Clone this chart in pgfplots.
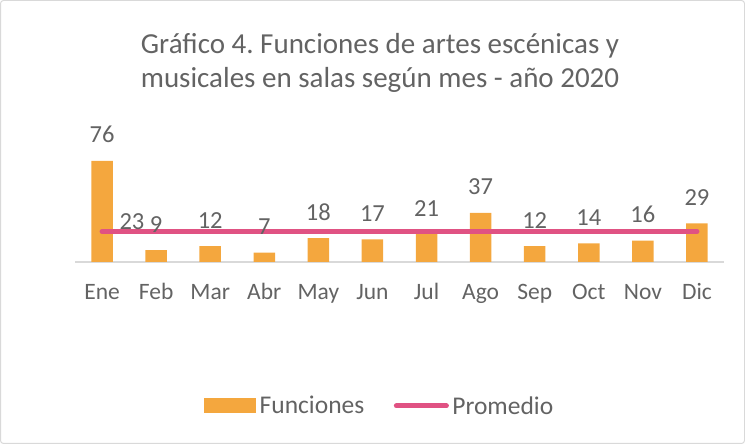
\documentclass[border=0pt]{standalone}
\usepackage{pgfplots}
\pgfplotsset{compat=1.18}
\usepackage{fontspec}
\setmainfont{Carlito}
\frenchspacing
\definecolor{barc}{HTML}{F4A73E}
\definecolor{linec}{HTML}{E05283}
\definecolor{txt}{HTML}{636363}
\definecolor{bord}{HTML}{D9D9D9}
\begin{document}
\begin{tikzpicture}[x=1pt,y=1pt]
\path[use as bounding box] (0,0) rectangle (745,444);
\draw[bord, line width=1pt, rounded corners=3pt] (0.5,0.5) rectangle (744.5,443.5);
\node[txt, font=\fontsize{29}{34}\selectfont, anchor=base, inner sep=0pt] at (380,390.7) {Gráfico 4. Funciones de artes escénicas y};
\node[txt, font=\fontsize{29}{34}\selectfont, anchor=base, inner sep=0pt] at (380,356) {musicales en salas según mes - año 2020};
\begin{axis}[
  at={(75pt,182pt)}, anchor=south west,
  scale only axis, width=649pt, height=106.4pt,
  xmin=-0.5, xmax=11.5, ymin=0, ymax=80,
  enlargelimits=false, clip=false,
  /pgf/number format/assume math mode=true,
  axis x line*=bottom, axis y line=none,
  x axis line style={draw=bord, line width=1.5pt},
  xtick={0,...,11},
  xticklabels={Ene,Feb,Mar,Abr,May,Jun,Jul,Ago,Sep,Oct,Nov,Dic},
  xtick style={draw=none},
  xticklabel style={font=\fontsize{23.5}{28}\selectfont, text=txt, anchor=base, inner sep=0pt, yshift=-38pt},
  legend style={draw=none, fill=none, legend columns=2,
    at={(axis description cs:0.4707,-1.353)}, anchor=center,
    font=\fontsize{25.5}{30}\selectfont, text=txt,
    nodes={inner sep=3.5pt},
    /tikz/every even column/.append style={column sep=26pt}},
]
\addplot[ybar, bar width=21.5pt, fill=barc, draw=none,
  nodes near coords, nodes near coords style={font=\fontsize{24.5}{28}\selectfont, text=txt, anchor=base, inner sep=0pt, yshift=18pt},
  legend image code/.code={\fill[barc] (0pt,-7.5pt) rectangle (52pt,7.5pt);}]
  coordinates {(0,76) (1,9) (2,12) (3,7) (4,18) (5,17) (6,21) (7,37) (8,12) (9,14) (10,16) (11,29)};
\addlegendentry{Funciones}
\addplot[linec, line width=5pt, line cap=round, mark=none,
  nodes near coords, point meta=explicit symbolic,
  nodes near coords style={font=\fontsize{24.5}{28}\selectfont, text=txt, anchor=base west, inner sep=0pt, xshift=15pt, yshift=1.5pt},
  legend image code/.code={\draw[linec, line width=5pt, line cap=round] (2.5pt,0pt) -- (52.5pt,0pt);}]
  coordinates {(0,23) [23] (11,23) []};
\addlegendentry{Promedio}
\end{axis}
\end{tikzpicture}
\end{document}
